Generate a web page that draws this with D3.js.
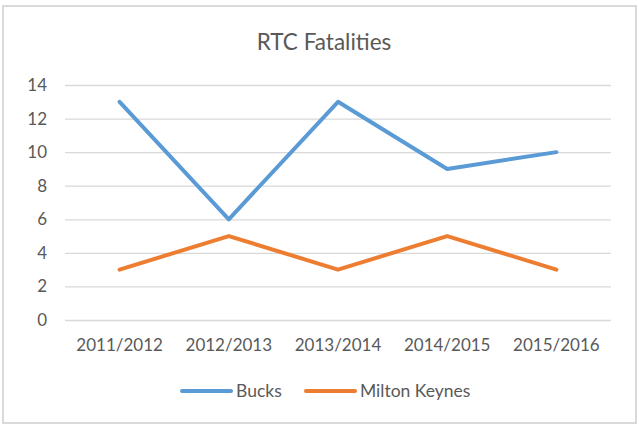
<!DOCTYPE html>
<html>
<head>
<meta charset="utf-8">
<script src="https://cdn.jsdelivr.net/npm/d3@7"></script>
<style>
  html, body { margin: 0; padding: 0; background: #ffffff; }
  svg text { font-family: Lato, "Open Sans", sans-serif; fill: #595959; }
</style>
</head>
<body>
<div id="chart"></div>
<script>
'use strict';

var categories = ['2011/2012', '2012/2013', '2013/2014', '2014/2015', '2015/2016'];
var bucks = [13, 6, 13, 9, 10];
var miltonKeynes = [3, 5, 3, 5, 3];
var yTicks = [0, 2, 4, 6, 8, 10, 12, 14];
var seriesNames = ['Bucks', 'Milton Keynes'];
var seriesColors = ['#5b9bd5', '#ed7d31'];

var width = 639, height = 425,
    plot = {left: 65, right: 611, top: 85, bottom: 320};

var svg = d3.select('#chart').append('svg')
    .attr('width', width)
    .attr('height', height);

// chart frame
svg.append('rect')
    .attr('x', 3).attr('y', 6)
    .attr('width', 633).attr('height', 417)
    .attr('fill', '#ffffff')
    .attr('stroke', '#d9d9d9')
    .attr('stroke-width', 2);

svg.append('text')
    .attr('x', 324)
    .attr('y', 50)
    .attr('text-anchor', 'middle')
    .attr('font-size', '22.5px')
    .text('RTC Fatalities');

var x = d3.scaleBand().domain(categories).range([plot.left, plot.right]),
    y = d3.scaleLinear().domain([0, 14]).range([plot.bottom, plot.top]);

// gridlines + y labels
var yAxis = svg.append('g')
    .attr('transform', 'translate(' + plot.left + ',0)')
    .call(d3.axisLeft(y).tickValues(yTicks).tickSize(-(plot.right - plot.left)).tickPadding(18));
yAxis.select('.domain').remove();
yAxis.selectAll('.tick line').attr('stroke', '#d9d9d9').attr('stroke-width', 1.3);
yAxis.selectAll('.tick text').attr('font-size', '17px').attr('fill', '#595959')
    .attr('font-family', 'Lato, "Open Sans", sans-serif');

// category labels
var xAxis = svg.append('g')
    .attr('transform', 'translate(0,' + plot.bottom + ')')
    .call(d3.axisBottom(x).tickSize(0).tickPadding(19));
xAxis.select('.domain').remove();
xAxis.selectAll('.tick text').attr('font-size', '17px').attr('fill', '#595959')
    .attr('font-family', 'Lato, "Open Sans", sans-serif');

var line = d3.line()
    .x(function(d, i){ return x(categories[i]) + x.bandwidth() / 2; })
    .y(function(d){ return y(d); });

[bucks, miltonKeynes].forEach(function(values, k){
    svg.append('path')
        .datum(values)
        .attr('d', line)
        .attr('fill', 'none')
        .attr('stroke', seriesColors[k])
        .attr('stroke-width', 4)
        .attr('stroke-linecap', 'round')
        .attr('stroke-linejoin', 'round');
});

// legend
var legendX = [182, 306], legendY = 391;
seriesNames.forEach(function(name, k){
    svg.append('line')
        .attr('x1', legendX[k]).attr('x2', legendX[k] + 49)
        .attr('y1', legendY).attr('y2', legendY)
        .attr('stroke', seriesColors[k])
        .attr('stroke-width', 4)
        .attr('stroke-linecap', 'round');
    svg.append('text')
        .attr('x', legendX[k] + 54)
        .attr('y', legendY + 6)
        .attr('font-size', '17.5px')
        .text(name);
});
</script>
</body>
</html>
